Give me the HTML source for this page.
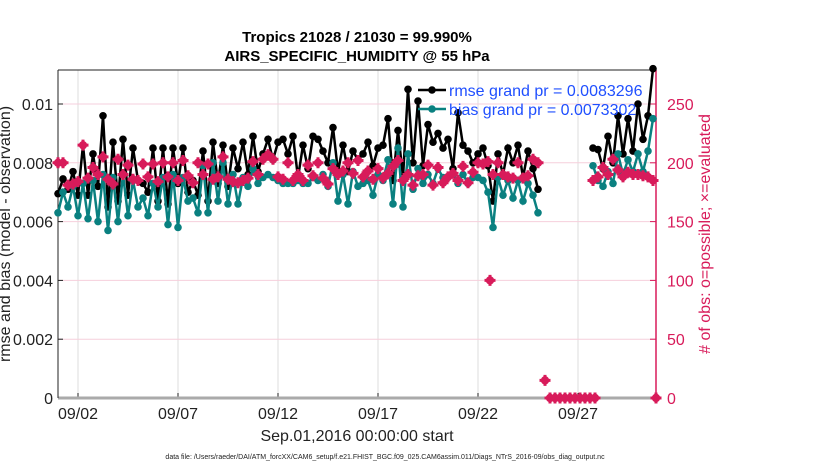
<!DOCTYPE html>
<html><head><meta charset="utf-8"><style>
body{margin:0;background:#fff;width:830px;height:470px;overflow:hidden;font-family:"Liberation Sans",sans-serif}
</style></head><body>
<svg id="c" width="830" height="470" xmlns="http://www.w3.org/2000/svg" font-family="Liberation Sans, sans-serif"></svg>
<script>
const xTickLabels=["09/02","09/07","09/12","09/17","09/22","09/27"];
const xTickDays=[2,7,12,17,22,27];
const yLeftTicks=[0,0.002,0.004,0.006,0.008,0.01];
const yLeftLabels=["0","0.002","0.004","0.006","0.008","0.01"];
const yRightTicks=[0,50,100,150,200,250];
const seg1Start=1, seg2Start=27.75, step=0.25;
const rmse1=[6.95,7.45,7.1,7.7,6.9,8.6,6.9,8.3,7.2,9.6,6.5,8.7,6.7,8.8,6.9,8.5,7.4,7.3,7.0,8.5,6.7,
8.5,6.6,8.5,7.3,8.5,7.0,7.4,6.9,8.4,6.7,8.7,7.3,8.6,7.2,8.5,7.8,8.7,7.6,8.9,7.7,
8.3,8.8,8.1,8.7,8.8,8.3,8.9,7.5,8.6,7.8,8.9,8.8,8.4,8.0,9.2,7.7,8.6,7.7,8.4,8.1,
8.3,8.7,7.9,8.5,8.6,9.5,7.4,9.1,7.5,10.5,8.0,10.1,7.9,9.3,8.7,9.0,8.5,8.8,7.8,9.7,
8.6,8.4,8.0,8.3,8.5,7.9,6.7,8.3,7.6,8.5,8.0,8.6,7.5,8.4,7.8,7.1];
const rmse2=[8.5,8.45,7.8,8.9,8.0,9.6,8.3,9.5,8.4,10.0,8.8,9.6,11.2];
const bias1=[6.3,7.0,6.5,7.2,6.2,7.3,6.1,7.4,6.0,7.6,5.7,7.5,6.0,7.6,6.2,7.4,6.5,6.8,6.2,7.3,6.5,
7.5,5.9,7.6,5.8,7.5,6.7,6.8,6.3,7.9,6.3,8.0,6.7,8.0,6.6,7.6,6.6,7.5,7.2,7.8,7.3,
7.5,7.6,7.5,7.4,7.3,7.3,7.3,7.4,7.3,7.3,7.5,7.4,7.6,7.2,8.0,6.7,7.6,6.6,7.7,7.2,
7.3,7.4,6.9,7.6,7.4,8.1,6.6,8.5,6.5,8.3,7.1,7.8,7.3,7.6,7.3,7.8,7.5,7.5,7.6,7.3,
7.6,7.3,7.5,7.5,7.4,7.0,5.8,7.5,6.9,7.4,6.8,7.4,6.7,7.3,6.9,6.3];
const bias2=[7.9,7.4,7.2,7.7,7.3,8.3,7.6,8.1,7.7,8.3,7.7,8.4,9.5];
const obs1=[200,200,181,182,184,215,187,196,190,205,186,182,203,190,198,186,185,199,188,199,184,
200,188,200,185,202,189,183,200,190,199,186,188,205,186,184,183,185,187,201,190,
203,207,203,188,186,200,185,190,185,198,189,200,187,182,195,190,193,200,191,202,
188,193,186,195,187,191,197,202,185,190,181,189,190,198,181,196,183,188,191,185,
197,183,192,200,199,201,190,200,190,188,187,200,187,189,203,200];
const obs2=[185,188,196,190,203,194,188,192,190,190,189,188,185];
const obsExtraDays=[22.6,25.35,25.6,25.85,26.1,26.35,26.6,26.85,27.1,27.35,27.6,27.85,30.9];
const obsExtraVals=[100,15,0,0,0,0,0,0,0,0,0,0,0];

const L=58,R=656,T=70,B=398,XMIN=1,XMAX=30.9;
const X=d=>L+(d-XMIN)/(XMAX-XMIN)*(R-L);
const YL=v=>B-v/0.01*(B-104);
const YR=c=>B-c/250*(B-104);
const svg=document.getElementById('c');const NS="http://www.w3.org/2000/svg";
function mk(t,a,txt){const e=document.createElementNS(NS,t);for(const k in a)e.setAttribute(k,a[k]);if(txt!==undefined)e.textContent=txt;svg.appendChild(e);return e;}
const PINK="#d81b5a";
xTickDays.forEach((d,i)=>{const e=mk('line',{x1:X(d),x2:X(d),y1:T,y2:B,stroke:'#ddd','stroke-width':1});

const t=mk('text',{x:X(d),y:B+21,'text-anchor':'middle','font-size':16,fill:'#222'},xTickLabels[i]);

mk('line',{x1:X(d),x2:X(d),y1:B,y2:B-5,stroke:'#222'});});
yLeftTicks.forEach((v,i)=>{const e=mk('line',{x1:L,x2:R,y1:YL(v),y2:YL(v),stroke:'#f6cfdc','stroke-width':1});

const t=mk('text',{x:L-5,y:YL(v)+6,'text-anchor':'end','font-size':16,fill:'#222'},yLeftLabels[i]);

mk('line',{x1:L,x2:L+5,y1:YL(v),y2:YL(v),stroke:'#222'});});
yRightTicks.forEach(c=>{const t=mk('text',{x:R+11,y:YR(c)+6,'font-size':16,fill:PINK},String(c));

mk('line',{x1:R-6,x2:R,y1:YR(c),y2:YR(c),stroke:PINK});});
mk('line',{x1:L,x2:R,y1:B,y2:B,stroke:'#aaa','stroke-width':3});
let a=mk('line',{x1:L,x2:R,y1:T,y2:T,stroke:'#222'});
a=mk('line',{x1:L,x2:L,y1:T,y2:B,stroke:'#222'});
a=mk('line',{x1:R,x2:R,y1:T,y2:B,stroke:PINK,'stroke-width':1.5});
function series(vals,start,col,name){const pts=vals.map((v,i)=>[X(start+i*step),YL(v/1000)]);
const p=mk('polyline',{points:pts.map(q=>q.join(',')).join(' '),fill:'none',stroke:col,'stroke-width':2.5});

pts.forEach(q=>{const c=mk('circle',{cx:q[0],cy:q[1],r:3.8,fill:col});});}
function obsMark(d,c){const g=mk('g',{});
const x=X(d),y=YR(c);const e=document.createElementNS(NS,'path');e.setAttribute('d',`M${x-5.5},${y}L${x+5.5},${y}M${x},${y-5.5}L${x},${y+5.5}`);e.setAttribute('stroke',PINK);e.setAttribute('stroke-width',3);g.appendChild(e);
const ci=document.createElementNS(NS,'circle');ci.setAttribute('cx',x);ci.setAttribute('cy',y);ci.setAttribute('r',4.2);ci.setAttribute('fill',PINK);g.appendChild(ci);}
series(rmse1,seg1Start,'#000','rmse');series(rmse2,seg2Start,'#000','rmse');
series(bias1,seg1Start,'#0a8080','bias');series(bias2,seg2Start,'#0a8080','bias');
obs1.forEach((c,i)=>obsMark(seg1Start+i*step,c));obs2.forEach((c,i)=>obsMark(seg2Start+i*step,c));
obsExtraDays.forEach((d,i)=>obsMark(d,obsExtraVals[i]));
</script>
<svg width="830" height="470" style="position:absolute;left:0;top:0" font-family="Liberation Sans, sans-serif">
<text x="357" y="42" text-anchor="middle" font-size="15" font-weight="bold">Tropics 21028 / 21030 = 99.990%</text>
<text x="357" y="61" text-anchor="middle" font-size="15" font-weight="bold">AIRS_SPECIFIC_HUMIDITY @ 55 hPa</text>
<g>
<line x1="418" y1="90" x2="446" y2="90" stroke="#000" stroke-width="2.5"/><circle cx="432" cy="90" r="3.8" fill="#000"/>
<text x="449" y="96" font-size="16" fill="#1f4fff">rmse grand pr = 0.0083296</text>
<line x1="418" y1="109" x2="446" y2="109" stroke="#0a8080" stroke-width="2.5"/><circle cx="432" cy="109" r="3.8" fill="#0a8080"/>
<text x="449" y="115" font-size="16" fill="#1f4fff">bias grand pr = 0.0073302</text>
</g>
<text x="357" y="441" text-anchor="middle" font-size="16" fill="#222">Sep.01,2016 00:00:00 start</text>
<text transform="translate(10,234) rotate(-90)" text-anchor="middle" font-size="16" fill="#222">rmse and bias (model - observation)</text>
<text transform="translate(710,234) rotate(-90)" text-anchor="middle" font-size="16" fill="#d81b5a"># of obs: o=possible; ×=evaluated</text>
<text x="385" y="459" text-anchor="middle" font-size="7" fill="#222">data file: /Users/raeder/DAI/ATM_forcXX/CAM6_setup/f.e21.FHIST_BGC.f09_025.CAM6assim.011/Diags_NTrS_2016-09/obs_diag_output.nc</text>
</svg>
</body></html>
